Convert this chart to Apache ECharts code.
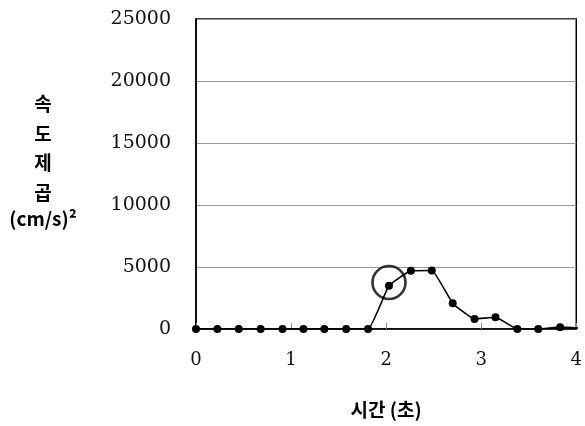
<!DOCTYPE html>
<html>
<head>
<meta charset="utf-8">
<script src="https://cdn.jsdelivr.net/npm/echarts@6/dist/echarts.min.js"></script>
<style>html,body{margin:0;padding:0;background:#fff}#c{width:585px;height:426px}</style>
</head>
<body>
<div id="c"></div>
<script>
var times = [0, 0.225, 0.45, 0.68, 0.91, 1.13, 1.35, 1.58, 1.81, 2.03, 2.26, 2.48, 2.70, 2.93, 3.15, 3.38, 3.60, 3.83, 4.05];
var values = [0, 0, 0, 0, 0, 0, 0, 0, 0, 3480, 4690, 4720, 2080, 810, 945, 0, 0, 150, 60];
var highlight = [[2.03, 3750]];
var yTicks = [0, 5000, 10000, 15000, 20000, 25000];
var xTicks = [0, 1, 2, 3, 4];
var yTitleLines = ['속', '도', '제', '곱', '(cm/s)²'];
var xTitle = '시간 (초)';

var chart = echarts.init(document.getElementById('c'), null, {renderer: 'canvas'});
var pts = times.map(function (t, i) { return [t, values[i]]; });
var serif = '"DejaVu Serif", "Liberation Serif", serif';
var sans = '"Noto Sans CJK KR", "Noto Sans", sans-serif';

var graphics = yTitleLines.map(function (s, i) {
  return {
    type: 'text', x: 43, y: [104, 134, 163, 193, 219][i],
    style: {text: s, fill: '#000', font: 'bold 19px ' + sans, textAlign: 'center', textVerticalAlign: 'middle'}
  };
});
graphics.push({
  type: 'text', x: 386, y: 410,
  style: {text: xTitle, fill: '#000', font: 'bold 19px ' + sans, textAlign: 'center', textVerticalAlign: 'middle'}
});

chart.setOption({
  animation: false,
  backgroundColor: '#fff',
  grid: {left: 196, right: 7, top: 19, bottom: 97, show: true, borderColor: '#000', borderWidth: 1.5, backgroundColor: 'transparent'},
  xAxis: {
    type: 'value', min: xTicks[0], max: xTicks[xTicks.length - 1], interval: 1,
    axisLine: {show: true, onZero: false, lineStyle: {color: '#000', width: 1.5}},
    axisTick: {show: true, inside: true, length: 6, lineStyle: {color: '#888'}},
    splitLine: {show: false},
    axisLabel: {margin: 22, color: '#111', fontFamily: serif, fontSize: 18}
  },
  yAxis: {
    type: 'value', min: yTicks[0], max: yTicks[yTicks.length - 1], interval: 5000,
    axisLine: {show: true, lineStyle: {color: '#000', width: 1.5}},
    axisTick: {show: false},
    splitLine: {show: true, lineStyle: {color: '#999', width: 1}},
    axisLabel: {margin: 25, color: '#111', fontFamily: serif, fontSize: 19, formatter: function (v) { return String(v); }}
  },
  series: [
    {
      type: 'line', data: pts, smooth: 0.12, clip: true,
      symbol: 'circle', symbolSize: 8, showAllSymbol: true,
      lineStyle: {color: '#000', width: 1.6},
      itemStyle: {color: '#000'}
    },
    {
      type: 'scatter', data: highlight, symbol: 'circle', symbolSize: 33,
      itemStyle: {color: 'rgba(0,0,0,0)', borderColor: '#000', borderWidth: 2.6},
      silent: true
    }
  ],
  graphic: graphics
});
</script>
</body>
</html>
